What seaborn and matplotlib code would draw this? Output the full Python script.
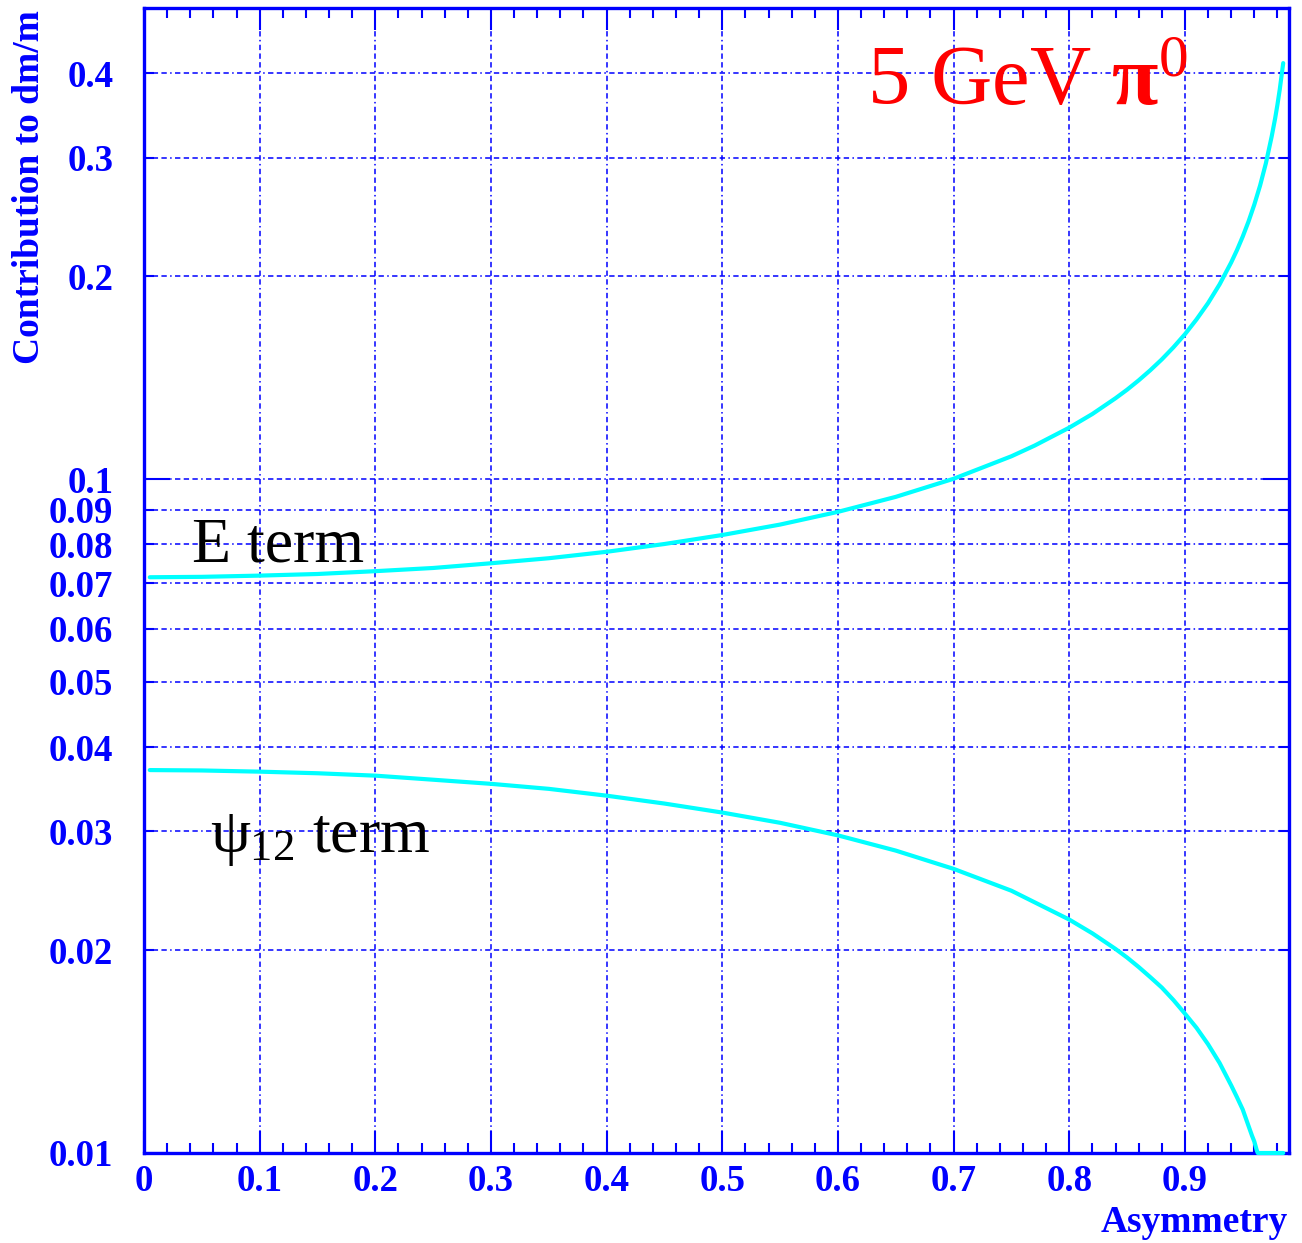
import matplotlib
matplotlib.use("Agg")
import matplotlib.pyplot as plt
from matplotlib.ticker import FixedLocator, NullFormatter, FixedFormatter
from matplotlib.font_manager import FontProperties
import seaborn as sns
import pandas as pd

# Energy-resolution term vs asymmetry
e_asym = [0.005, 0.05, 0.1, 0.15, 0.2, 0.25, 0.3, 0.35, 0.4, 0.45, 0.5, 0.55,
          0.6, 0.65, 0.7, 0.75, 0.77, 0.8, 0.82, 0.84, 0.85, 0.86, 0.87, 0.88,
          0.89, 0.9, 0.91, 0.92, 0.93, 0.94, 0.945, 0.95, 0.955, 0.96, 0.965,
          0.97, 0.975, 0.978, 0.98, 0.982, 0.985]
e_term = [0.0715, 0.0716, 0.0719, 0.0723, 0.0730, 0.0738, 0.0750, 0.0763,
          0.0780, 0.0801, 0.0826, 0.0856, 0.0894, 0.0941, 0.1001, 0.1081,
          0.1121, 0.1192, 0.1249, 0.1318, 0.1357, 0.1401, 0.1450, 0.1505,
          0.1568, 0.1640, 0.1725, 0.1824, 0.1945, 0.2096, 0.2186, 0.2290,
          0.2411, 0.2554, 0.2726, 0.2941, 0.3222, 0.3428, 0.3593, 0.3785,
          0.4142]

# Opening-angle term vs asymmetry (runs along the lower edge once it reaches 0.01)
psi_asym = [0.005, 0.05, 0.1, 0.15, 0.2, 0.25, 0.3, 0.35, 0.4, 0.45, 0.5, 0.55,
            0.6, 0.65, 0.7, 0.75, 0.8, 0.82, 0.84, 0.85, 0.86, 0.87, 0.88,
            0.89, 0.9, 0.91, 0.92, 0.93, 0.94, 0.945, 0.95, 0.955, 0.958,
            0.96, 0.962, 0.963, 0.975, 0.985]
psi_term = [0.0370, 0.03695, 0.0368, 0.0366, 0.0363, 0.0358, 0.0353, 0.0347,
            0.0339, 0.0330, 0.0320, 0.0309, 0.0296, 0.0281, 0.0264, 0.0245,
            0.0222, 0.02118, 0.02008, 0.0195, 0.01888, 0.01824, 0.0176,
            0.01687, 0.0161, 0.01534, 0.0145, 0.01360, 0.0126, 0.01210,
            0.0116, 0.01097, 0.01061, 0.0104, 0.01011, 0.0100, 0.0100, 0.0100]

x_major = [0, 0.1, 0.2, 0.3, 0.4, 0.5, 0.6, 0.7, 0.8, 0.9]
x_labels = ["0", "0.1", "0.2", "0.3", "0.4", "0.5", "0.6", "0.7", "0.8", "0.9"]
y_decades = [0.01, 0.1]
y_decade_labels = ["0.01", "0.1"]
y_others = [0.02, 0.03, 0.04, 0.05, 0.06, 0.07, 0.08, 0.09, 0.2, 0.3, 0.4]
y_other_labels = ["0.02", "0.03", "0.04", "0.05", "0.06", "0.07", "0.08",
                  "0.09", "0.2", "0.3", "0.4"]

sns.set_theme(style="white")
plt.rcParams["font.family"] = ["Liberation Serif", "DejaVu Serif"]
plt.rcParams["mathtext.fontset"] = "custom"
plt.rcParams["mathtext.rm"] = "Liberation Serif"
plt.rcParams["mathtext.it"] = "Liberation Serif"
plt.rcParams["mathtext.bf"] = "Liberation Serif:bold"

BLUE = "#0000ff"
CYAN = "#00ffff"

fig = plt.figure(figsize=(13.02, 12.43), dpi=100)
fig.patch.set_facecolor("white")
ax = fig.add_axes([144 / 1302, 1 - 1153 / 1243, (1289 - 144) / 1302, (1153 - 8) / 1243])

df_e = pd.DataFrame({"asym": e_asym, "value": e_term})
df_p = pd.DataFrame({"asym": psi_asym, "value": psi_term})
sns.lineplot(data=df_e, x="asym", y="value", ax=ax, color=CYAN, linewidth=3.0,
             sort=False, estimator=None, zorder=3, clip_on=False)
sns.lineplot(data=df_p, x="asym", y="value", ax=ax, color=CYAN, linewidth=3.0,
             sort=False, estimator=None, zorder=3, clip_on=False)

ax.set_yscale("log")
ax.set_xlim(0, 0.99)
ax.set_ylim(0.01, 0.5)
ax.set_xlabel("")
ax.set_ylabel("")

# x ticks: labelled every 0.1, small marks every 0.02
ax.xaxis.set_major_locator(FixedLocator(x_major))
ax.xaxis.set_major_formatter(FixedFormatter(x_labels))
ax.xaxis.set_minor_locator(FixedLocator([i * 0.02 for i in range(50)]))
ax.xaxis.set_minor_formatter(NullFormatter())

# y ticks: decades long, the rest short, all labelled
ax.yaxis.set_major_locator(FixedLocator(y_decades))
ax.yaxis.set_major_formatter(FixedFormatter(y_decade_labels))
ax.yaxis.set_minor_locator(FixedLocator(y_others))
ax.yaxis.set_minor_formatter(FixedFormatter(y_other_labels))

ax.tick_params(axis="x", which="major", direction="in", length=16, width=1.5,
               color=BLUE, top=True, bottom=True, labelcolor=BLUE, pad=8)
ax.tick_params(axis="x", which="minor", direction="in", length=7, width=1.5,
               color=BLUE, top=True, bottom=True)
ax.tick_params(axis="y", which="major", direction="in", length=19, width=1.5,
               color=BLUE, left=True, right=True, labelcolor=BLUE, pad=22)
ax.tick_params(axis="y", which="minor", direction="in", length=7, width=1.5,
               color=BLUE, left=True, right=True, labelcolor=BLUE, pad=22)
tick_fp = FontProperties(family="Liberation Serif", weight="bold", size=26.5)
for lab in ax.get_xticklabels() + ax.get_yticklabels(which="both"):
    lab.set_fontproperties(tick_fp)

dash = (0, (3.5, 2.2, 3.5, 2.2, 3.5, 2.2, 1.0, 2.2))
for xv in x_major[1:]:
    ax.axvline(xv, color=BLUE, linewidth=1.1, linestyle=dash, zorder=1)
for yv in y_others + [0.1]:
    ax.axhline(yv, color=BLUE, linewidth=1.1, linestyle=dash, zorder=1)

for s in ax.spines.values():
    s.set_color(BLUE)
    s.set_linewidth(2.4)

# annotations
ax.text(867 / 1302, 1 - 105 / 1243, r"5 GeV $\mathbf{\pi}^{0}$", transform=fig.transFigure,
        color="red", fontsize=61, ha="left", va="baseline",
        family="Liberation Serif")
ax.text(192 / 1302, 1 - 562 / 1243, "E term", transform=fig.transFigure,
        color="black", fontsize=46, ha="left", va="baseline",
        family="Liberation Serif")
ax.text(210 / 1302, 1 - 852 / 1243, r"$\psi_{12}$ term", transform=fig.transFigure,
        color="black", fontsize=46, ha="left", va="baseline",
        family="Liberation Serif")

fig.text(30 / 1302, 1 - 10 / 1243, "Contribution to dm/m", rotation=90,
         color=BLUE, fontsize=27, fontweight="bold", ha="center", va="top",
         family="Liberation Serif")
fig.text(1288 / 1302, 1 - 1232 / 1243, "Asymmetry", color=BLUE, fontsize=27,
         fontweight="bold", ha="right", va="baseline", family="Liberation Serif")

fig.savefig("out.png", dpi=100, facecolor="white")
